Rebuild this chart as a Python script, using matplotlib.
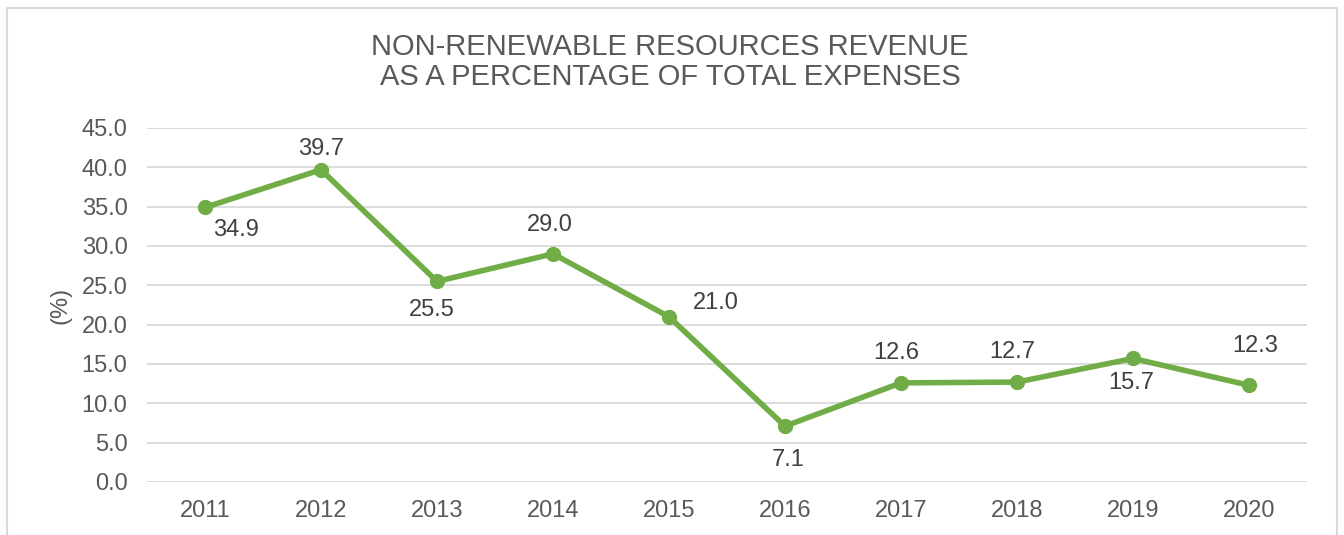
import matplotlib.pyplot as plt
from matplotlib.lines import Line2D

plt.rcParams['font.family'] = ['Liberation Sans', 'DejaVu Sans']

years = ['2011', '2012', '2013', '2014', '2015', '2016', '2017', '2018', '2019', '2020']
values = [34.9, 39.7, 25.5, 29.0, 21.0, 7.1, 12.6, 12.7, 15.7, 12.3]
yticks = [0, 5, 10, 15, 20, 25, 30, 35, 40, 45]

green = '#70AD47'
gray = '#595959'

fig = plt.figure(figsize=(13.44, 5.35), dpi=100)
ax = fig.add_axes([147 / 1344, 1 - 482 / 535, 1160 / 1344, 354 / 535])

x = list(range(len(years)))
ax.plot(x, values, color=green, lw=4, marker='o', ms=10, solid_capstyle='round')

# label offsets in pixels (right, up)
label_off = [(31, -23), (0, 21), (-5, -29), (-3, 29), (47, 14),
             (3, -34), (-5, 30), (-5, 30), (-2, -25), (6, 39)]
for xi, v, (dx, dy) in zip(x, values, label_off):
    ax.annotate(f'{v:.1f}', (xi, v), xytext=(dx, dy), textcoords='offset pixels',
                ha='center', va='center', fontsize=17, color='#404040')

ax.set_xlim(-0.5, len(years) - 0.5)
ax.set_ylim(0, 45)
ax.set_yticks(yticks)
ax.set_yticklabels([f'{t:.1f}' for t in yticks])
ax.set_xticks(x)
ax.set_xticklabels(years)
ax.tick_params(axis='both', length=0, labelsize=17, colors=gray)
ax.tick_params(axis='x', pad=13)
ax.tick_params(axis='y', pad=14)
ax.grid(axis='y', color='#D9D9D9', lw=1.3)
ax.set_axisbelow(True)
for s in ax.spines.values():
    s.set_visible(False)

ax.set_ylabel('(%)', fontsize=17, color=gray, labelpad=7)

fig.text(670 / 1344, 1 - 62 / 535, 'NON-RENEWABLE RESOURCES REVENUE\nAS A PERCENTAGE OF TOTAL EXPENSES',
         ha='center', va='center', fontsize=21, color=gray, linespacing=1.05)

# outer chart border (bottom edge is cropped off in the original)
bx0, bx1 = 7 / 1344, 1337 / 1344
by_top = 1 - 8 / 535
for xs, ys in [([bx0, bx0], [0, by_top]), ([bx0, bx1], [by_top, by_top]), ([bx1, bx1], [by_top, 0])]:
    fig.add_artist(Line2D(xs, ys, color='#D9D9D9', lw=1.5, transform=fig.transFigure))

fig.savefig('out.png', dpi=100)
